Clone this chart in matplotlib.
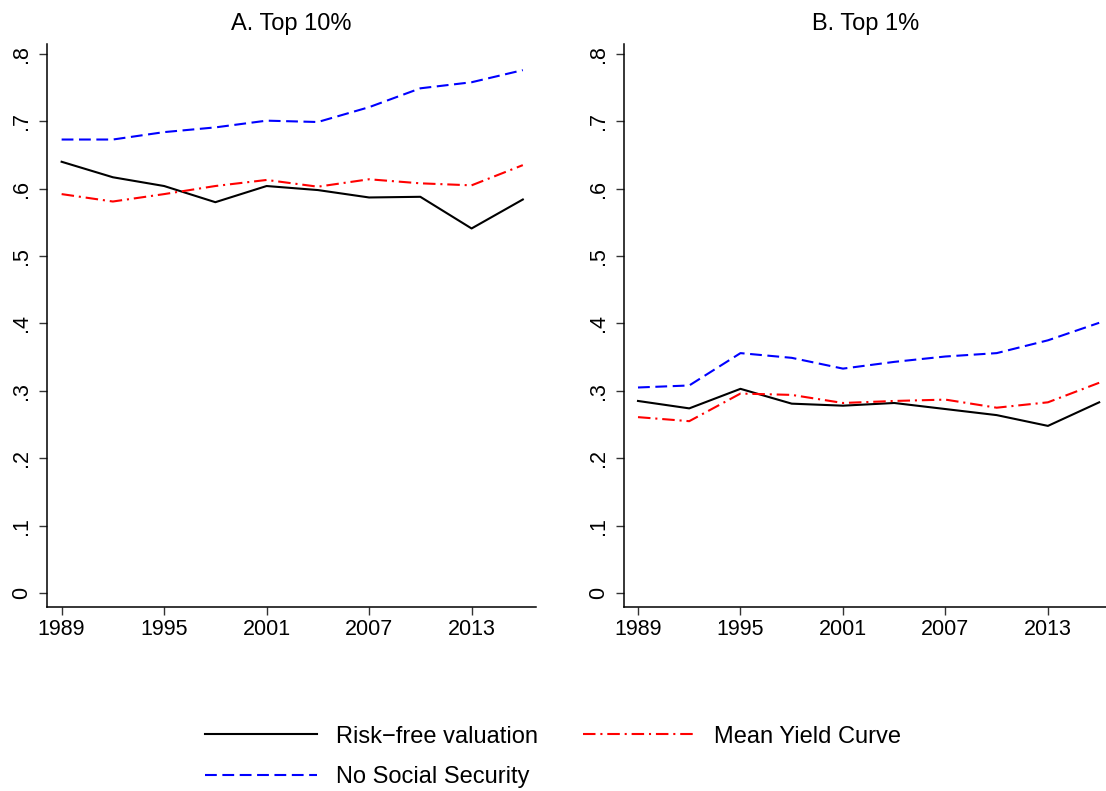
import matplotlib
matplotlib.use("Agg")
import matplotlib.pyplot as plt

# SCF survey years
years = [1989, 1992, 1995, 1998, 2001, 2004, 2007, 2010, 2013, 2016]

# A. Top 10%
top10_riskfree = [0.640, 0.617, 0.604, 0.580, 0.604, 0.598, 0.587, 0.588, 0.541, 0.584]
top10_yield = [0.592, 0.581, 0.592, 0.604, 0.613, 0.603, 0.614, 0.608, 0.605, 0.635]
top10_no_ss = [0.673, 0.673, 0.684, 0.691, 0.701, 0.699, 0.721, 0.749, 0.758, 0.776]

# B. Top 1%
top1_riskfree = [0.285, 0.274, 0.303, 0.281, 0.278, 0.282, 0.273, 0.264, 0.248, 0.283]
top1_yield = [0.261, 0.255, 0.296, 0.294, 0.282, 0.285, 0.287, 0.275, 0.283, 0.312]
top1_no_ss = [0.305, 0.308, 0.356, 0.349, 0.333, 0.343, 0.351, 0.356, 0.375, 0.401]

xticks = [1989, 1995, 2001, 2007, 2013]
yticks = [0, 0.1, 0.2, 0.3, 0.4, 0.5, 0.6, 0.7, 0.8]
ytick_labels = ["0", ".1", ".2", ".3", ".4", ".5", ".6", ".7", ".8"]

panels = [
    ("A. Top 10%", top10_riskfree, top10_yield, top10_no_ss),
    ("B. Top 1%", top1_riskfree, top1_yield, top1_no_ss),
]

plt.rcParams["font.family"] = ["Liberation Sans", "DejaVu Sans"]
plt.rcParams["lines.scale_dashes"] = False
FS_TICK = 15.5
FS_TEXT = 17

fig = plt.figure(figsize=(11.06, 7.91), dpi=100)
# axes boxes in figure fractions, plus x-limits (years) for each panel
boxes = [(0.0429, 0.2326, 0.4417, 0.7118), (0.5645, 0.2326, 0.4355, 0.7118)]
xlims = [(1988.17, 2016.77), (1988.20, 2016.40)]

handles = None
for (title, rf, yc, nss), box, xl in zip(panels, boxes, xlims):
    ax = fig.add_axes(box)
    h1, = ax.plot(years, rf, color="black", lw=1.5, label="Risk\u2212free valuation")
    h2, = ax.plot(years, yc, color="red", lw=1.5, dashes=(9, 3.5, 1.5, 3.5),
                  label="Mean Yield Curve")
    h3, = ax.plot(years, nss, color="blue", lw=1.5, dashes=(8.5, 4),
                  label="No Social Security")
    handles = [h1, h3, h2]
    ax.set_xlim(*xl)
    ax.set_ylim(-0.0208, 0.8148)
    ax.set_xticks(xticks)
    ax.set_xticklabels([str(t) for t in xticks], fontsize=FS_TICK)
    ax.set_yticks(yticks)
    ax.set_yticklabels(ytick_labels, fontsize=FS_TICK, rotation=90, va="center")
    ax.tick_params(axis="both", direction="out", length=5.8, width=1.0, color="#333333")
    ax.tick_params(axis="y", pad=5)
    ax.tick_params(axis="x", pad=3)
    for s in ("top", "right"):
        ax.spines[s].set_visible(False)
    for s in ("left", "bottom"):
        ax.spines[s].set_linewidth(1.1)
    ax.set_title(title, fontsize=FS_TEXT, pad=10)

fig.legend(handles, [h.get_label() for h in handles], loc="center",
           bbox_to_anchor=(0.5, 0.043), ncol=2, frameon=False, fontsize=FS_TEXT,
           handlelength=4.75, handletextpad=0.8, columnspacing=1.9,
           labelspacing=0.8)

fig.savefig("out.png", dpi=100, facecolor="white")
